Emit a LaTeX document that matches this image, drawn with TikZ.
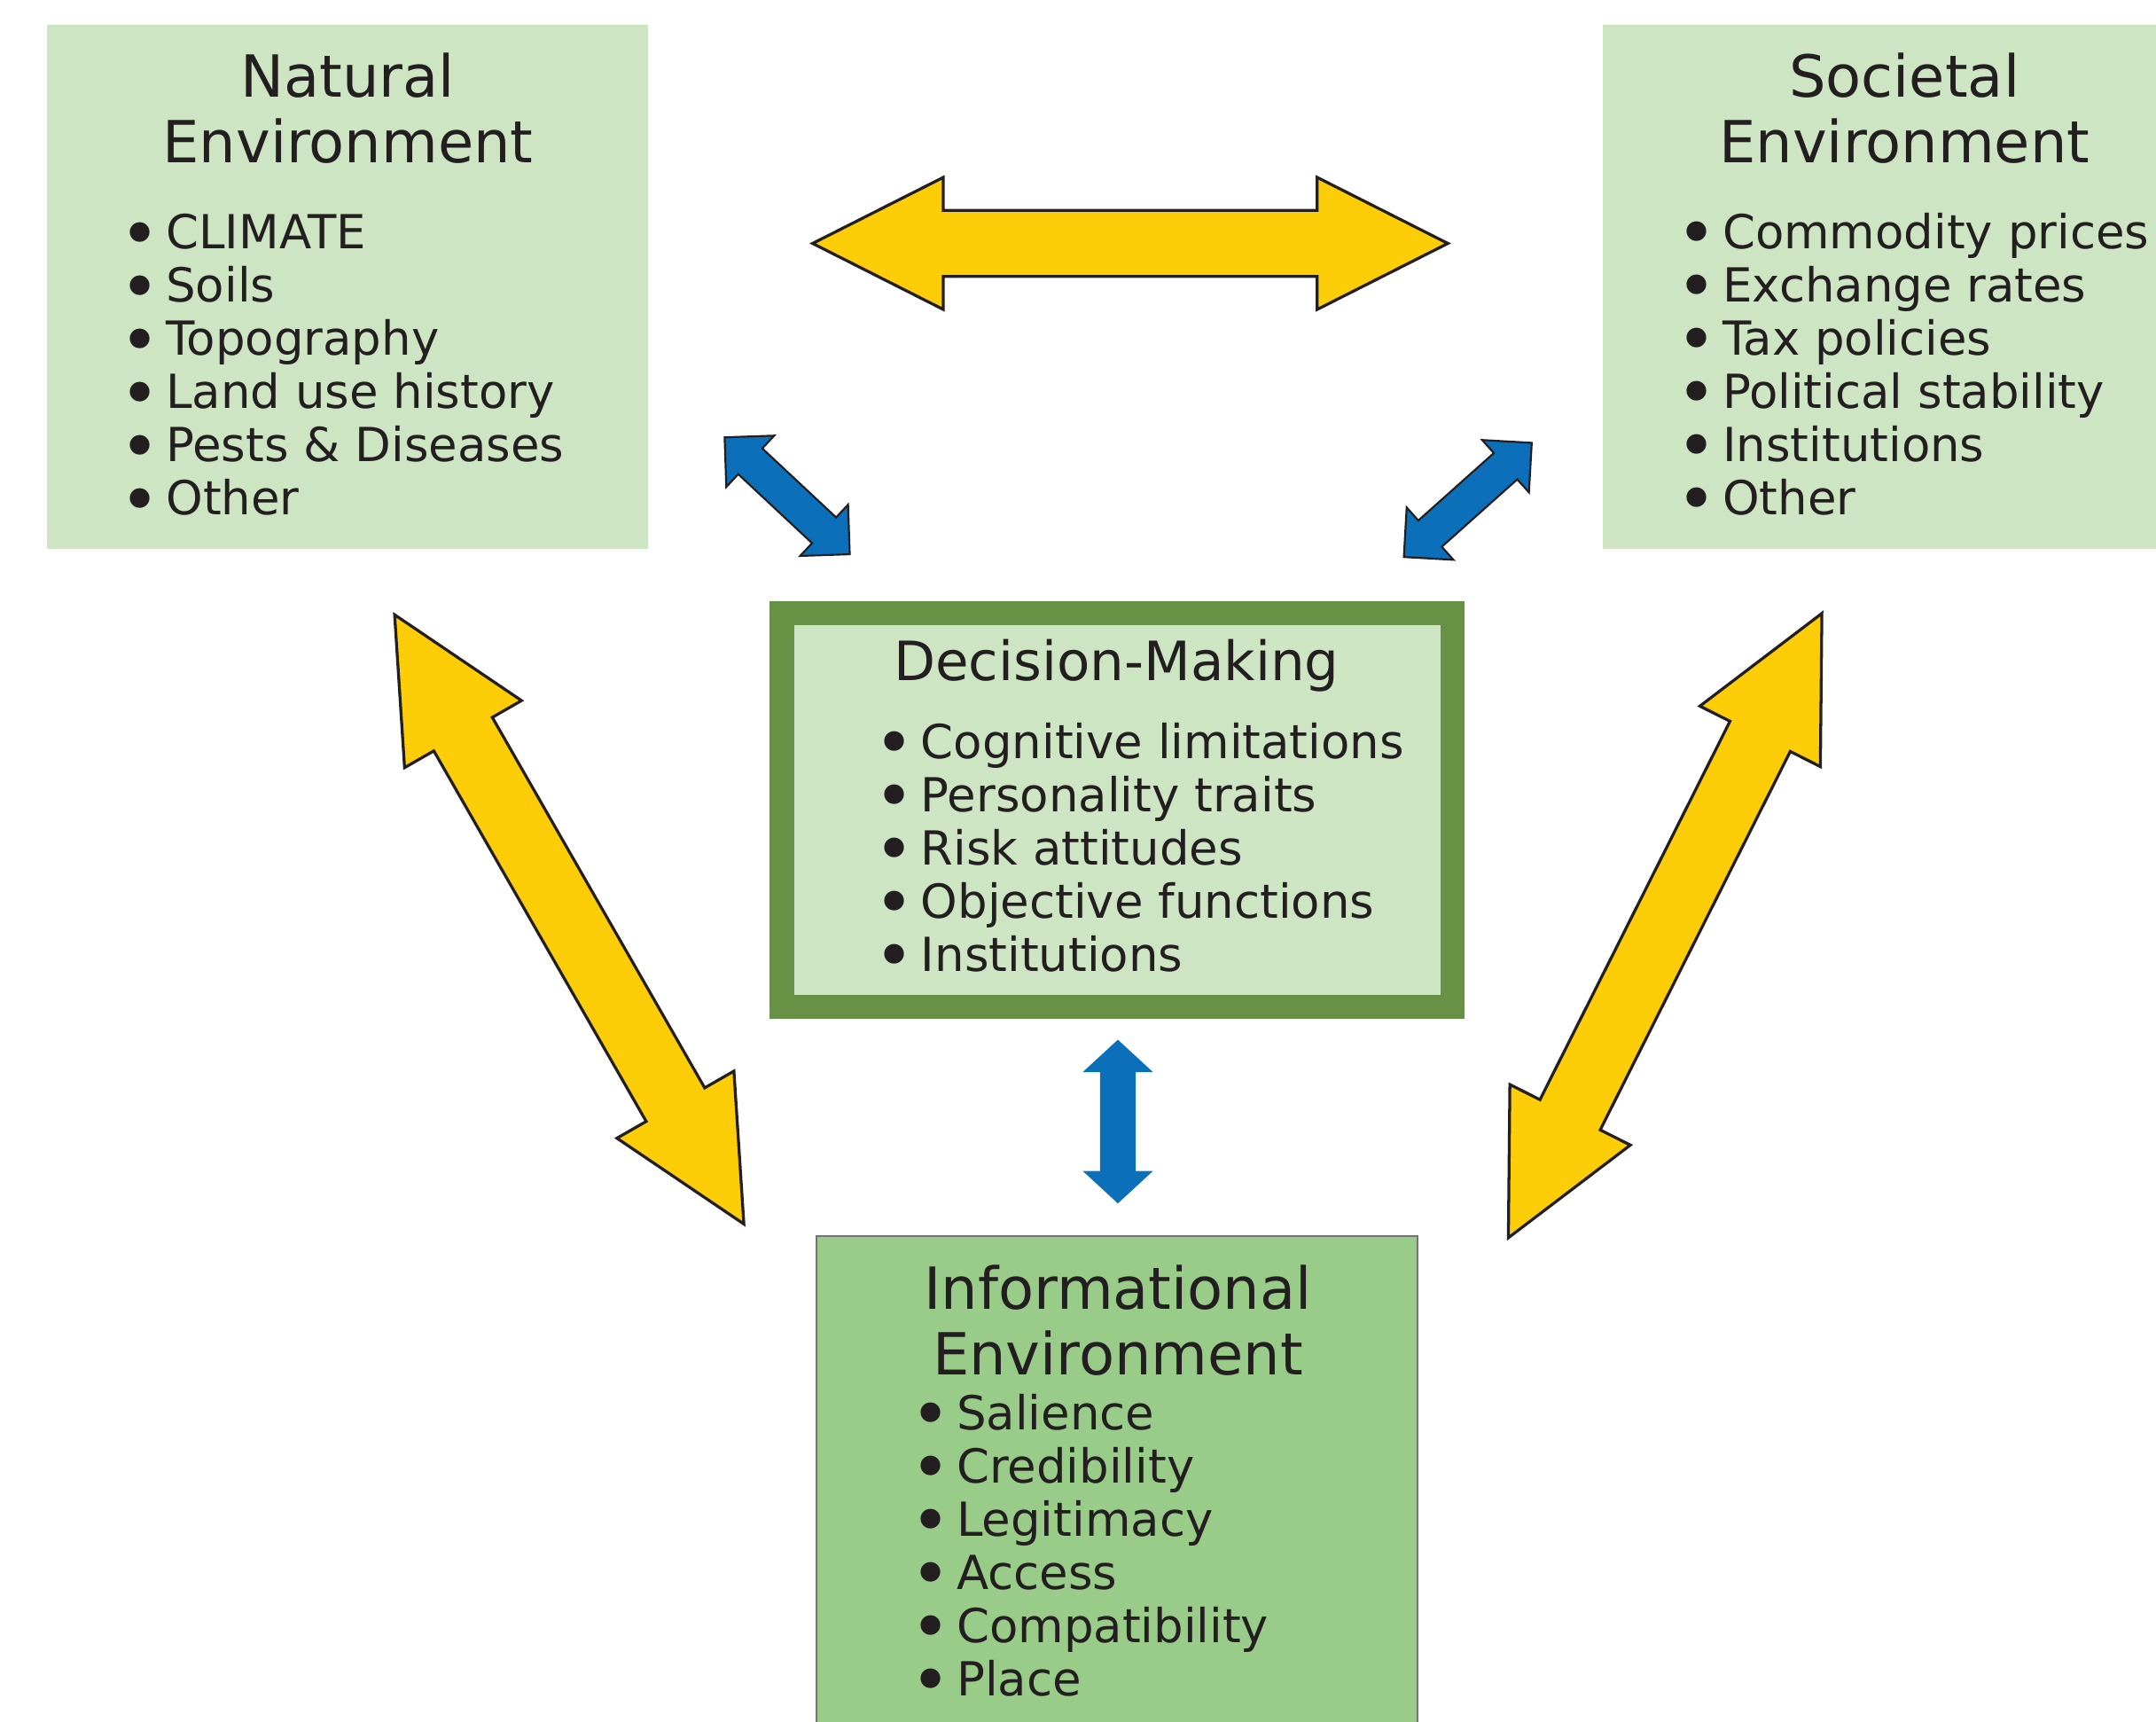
\documentclass[tikz,border=0pt]{standalone}
\usepackage{fontspec}
\setmainfont{DejaVu Sans}
\usetikzlibrary{calc}

\definecolor{paleleaf}{RGB}{205,229,194}
\definecolor{leaf}{RGB}{152,204,136}
\definecolor{moss}{RGB}{103,145,68}
\definecolor{sun}{RGB}{253,205,8}
\definecolor{sea}{RGB}{11,112,185}
\definecolor{ink}{RGB}{35,31,32}

% list bullet, a bit larger than the text's own
\newcommand{\bul}{{\fontsize{14}{11}\selectfont\raisebox{-1.7pt}{•}}\hspace{1.3pt}}

% block arrow with a head at both ends: style, from, to, head length, head half width, shaft half width
\newcommand{\twoway}[6]{%
  \path (#2) coordinate (tw-a) (#3) coordinate (tw-b)
    ($(tw-a)!#4!(tw-b)$) coordinate (tw-p)
    ($(tw-b)!#4!(tw-a)$) coordinate (tw-q);
  \filldraw[#1] (tw-a)
    -- ($(tw-p)!#5!90:(tw-b)$) -- ($(tw-p)!#6!90:(tw-b)$)
    -- ($(tw-q)!#6!-90:(tw-a)$) -- ($(tw-q)!#5!-90:(tw-a)$)
    -- (tw-b)
    -- ($(tw-q)!#5!90:(tw-a)$) -- ($(tw-q)!#6!90:(tw-a)$)
    -- ($(tw-p)!#6!-90:(tw-b)$) -- ($(tw-p)!#5!-90:(tw-b)$)
    -- cycle;
}

\tikzset{
  envbox/.style={rectangle, inner sep=0pt, outer sep=0pt, fill=paleleaf},
  boxtitle/.style={align=center, inner sep=0pt, anchor=north, text=ink,
    font=\fontsize{12}{13.6}\selectfont},
  items/.style={align=left, inner sep=0pt, anchor=north west, text=ink,
    font=\fontsize{9.7}{11}\selectfont},
  yarrow/.style={fill=sun, draw=ink, line width=0.6pt},
  barrow/.style={fill=sea, draw=ink, line width=0.4pt},
}

\begin{document}
\begin{tikzpicture}[x=0.01cm, y=-0.01cm]
  \useasboundingbox (0,0) rectangle (1568,1252);

  % the four boxes
  \node[envbox, minimum width=4.37cm, minimum height=3.81cm] (natural) at (252.5,208.5) {};
  \node[envbox, minimum width=4.02cm, minimum height=3.81cm] (societal) at (1367,208.5) {};
  \node[envbox, draw=moss, line width=0.175cm, minimum width=4.875cm, minimum height=2.865cm]
    (decision) at (812.5,589) {};
  \node[envbox, fill=leaf, draw=black!55, line width=0.4pt, minimum width=4.37cm, minimum height=3.61cm]
    (info) at (812.5,1079.5) {};

  % titles and lists
  \node[boxtitle] (natT) at (253,38) {Natural\\Environment};
  \node[items] (natL) at (86.5,155) {\bul CLIMATE\\\bul Soils\\\bul Topography\\\bul Land use history\\\bul Pests \& Diseases\\\bul Other};

  \node[boxtitle] (socT) at (1385,38) {Societal\\Environment};
  \node[items] (socL) at (1218.5,154) {\bul Commodity prices\\\bul Exchange rates\\\bul Tax policies\\\bul Political stability\\\bul Institutions\\\bul Other};

  \node[boxtitle, font=\fontsize{11.2}{13}\selectfont] (decT) at (812,464) {Decision-Making};
  \node[items] (decL) at (635.5,525) {\bul Cognitive limitations\\\bul Personality traits\\\bul Risk attitudes\\\bul Objective functions\\\bul Institutions};

  \node[boxtitle] (infT) at (813,919) {Informational\\Environment};
  \node[items] (infL) at (661.5,1013) {\bul Salience\\\bul Credibility\\\bul Legitimacy\\\bul Access\\\bul Compatibility\\\bul Place};

  % arrow ends
  \coordinate (ns1) at (591,177);  \coordinate (ns2) at (1053,177);
  \coordinate (ny1) at (287,447);  \coordinate (ny2) at (541,890);
  \coordinate (sy1) at (1325,446); \coordinate (sy2) at (1097,900);
  \coordinate (nb1) at (527,318);  \coordinate (nb2) at (618,403);
  \coordinate (sb1) at (1114,322); \coordinate (sb2) at (1021,405);
  \coordinate (ib1) at (813,756);  \coordinate (ib2) at (813,875);

  % yellow links between the environments
  \twoway{yarrow}{ns1}{ns2}{0.95cm}{0.48cm}{0.24cm}
  \twoway{yarrow}{ny1}{ny2}{1.0cm}{0.49cm}{0.245cm}
  \twoway{yarrow}{sy1}{sy2}{1.0cm}{0.49cm}{0.245cm}

  % blue links to decision-making
  \twoway{barrow}{nb1}{nb2}{0.255cm}{0.255cm}{0.128cm}
  \twoway{barrow}{sb1}{sb2}{0.255cm}{0.255cm}{0.128cm}
  \twoway{barrow, draw=none}{ib1}{ib2}{0.236cm}{0.256cm}{0.13cm}
\end{tikzpicture}
\end{document}
